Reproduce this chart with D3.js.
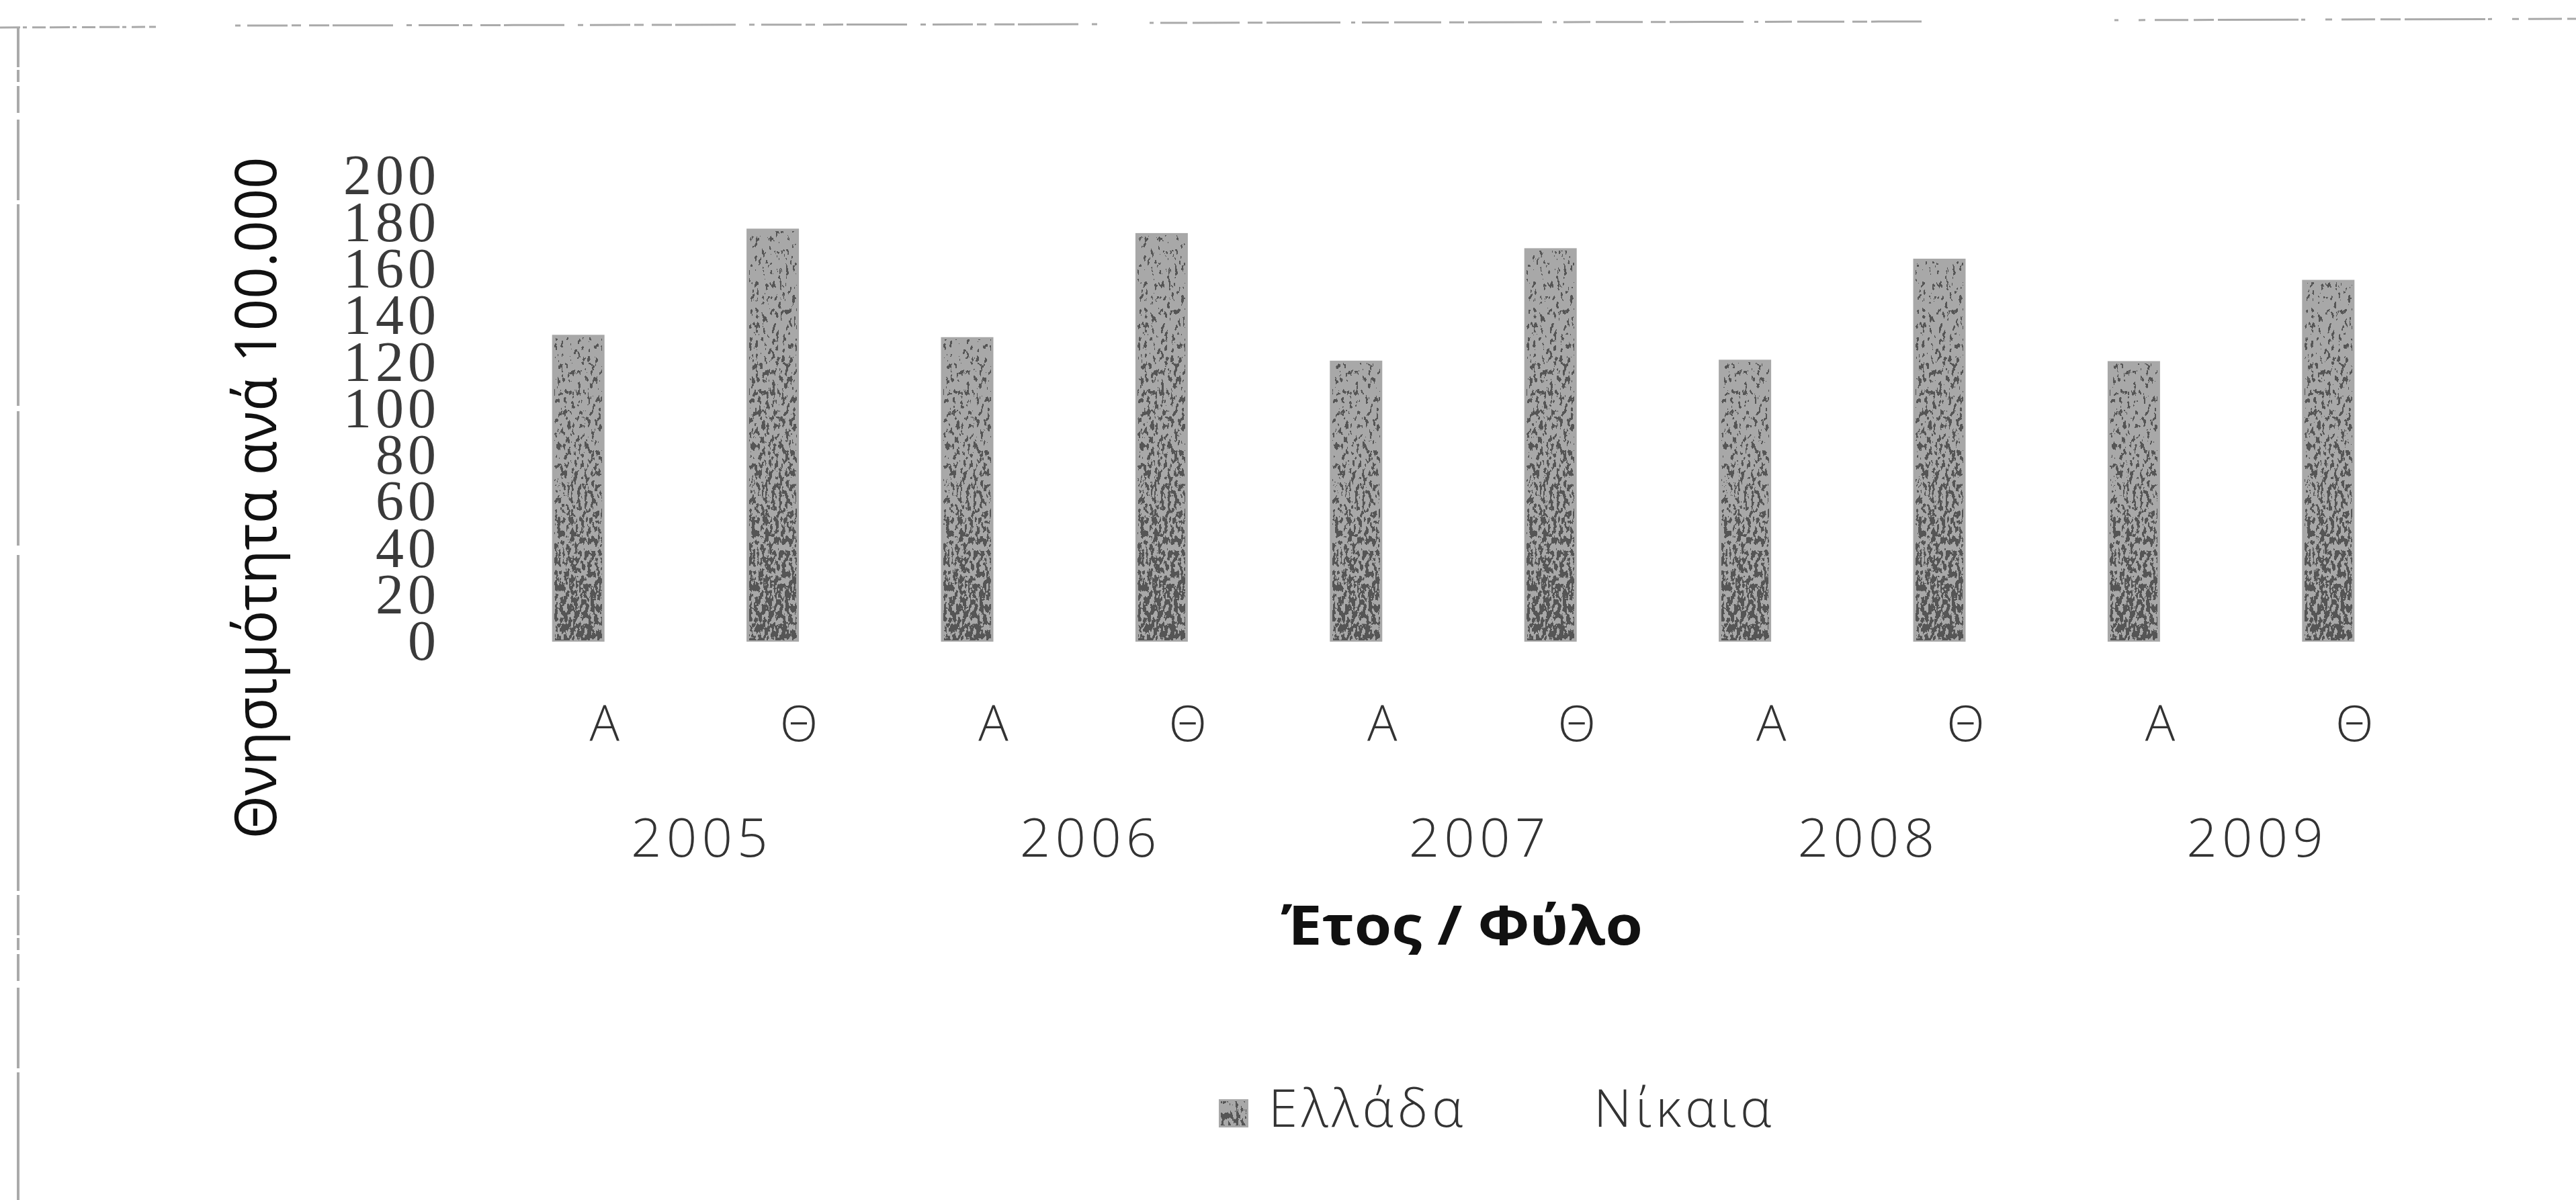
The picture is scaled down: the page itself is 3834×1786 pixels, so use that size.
<!DOCTYPE html>
<html>
<head>
<meta charset="utf-8">
<script src="https://cdn.jsdelivr.net/npm/d3@7"></script>
<style>
body { margin: 0; background: #fff; }
svg { display: block; }
</style>
</head>
<body>
<div id="chart"></div>
<script>
// data
var years = ["2005", "2006", "2007", "2008", "2009"];
var sexes = ["Α", "Θ"];
var seriesNames = ["Ελλάδα", "Νίκαια"];
var greece = [131.8, 177.4, 130.8, 175.5, 120.7, 169.0, 121.1, 164.5, 120.5, 155.4];
// Νίκαια bars are not visible in the reference
var nikaia = [null, null, null, null, null, null, null, null, null, null];
var yTicks = [0, 20, 40, 60, 80, 100, 120, 140, 160, 180, 200];

var W = 3834, H = 1786;
var plot = { left: 755, right: 3649, top: 262, base: 955 };

var categories = [];
years.forEach(function (yr) {
    sexes.forEach(function (s) { categories.push(yr + "|" + s); });
});

var x = d3.scaleBand().domain(categories).range([plot.left, plot.right]);
var xSeries = d3.scaleBand().domain(seriesNames)
    .range([0, x.bandwidth()])
    .paddingOuter(0.855);
var xYear = d3.scaleBand().domain(years).range([plot.left, plot.right]);
var y = d3.scaleLinear().domain([0, 200]).range([plot.base, plot.top]);

var svg = d3.select("#chart").append("svg")
    .attr("width", W)
    .attr("height", H);

// scanned-looking texture for the bars
var defs = svg.append("defs");
var grad = defs.append("linearGradient").attr("id", "shade")
    .attr("x1", 0).attr("y1", 0).attr("x2", 0).attr("y2", 1);
grad.append("stop").attr("offset", 0).attr("stop-color", "#000").attr("stop-opacity", 0);
grad.append("stop").attr("offset", 1).attr("stop-color", "#000").attr("stop-opacity", 1);

var f = defs.append("filter").attr("id", "speckle")
    .attr("x", 0).attr("y", 0).attr("width", 1).attr("height", 1)
    .attr("color-interpolation-filters", "sRGB");
f.append("feTurbulence").attr("type", "fractalNoise")
    .attr("baseFrequency", "0.2 0.1").attr("numOctaves", 3).attr("seed", 5)
    .attr("result", "noise");
f.append("feColorMatrix").attr("in", "noise").attr("type", "matrix")
    .attr("values", "0 0 0 0 0  0 0 0 0 0  0 0 0 0 0  1 0 0 0 0")
    .attr("result", "na");
f.append("feComposite").attr("in", "na").attr("in2", "SourceAlpha")
    .attr("operator", "arithmetic")
    .attr("k1", 0).attr("k2", 1).attr("k3", 0.2).attr("k4", -0.16)
    .attr("result", "mix");
f.append("feComponentTransfer").attr("in", "mix").attr("result", "mask")
    .append("feFuncA").attr("type", "discrete").attr("tableValues", "0 1");
f.append("feFlood").attr("flood-color", "#555555").attr("result", "dark");
f.append("feComposite").attr("in", "dark").attr("in2", "mask").attr("operator", "in");

// scan border remnants
svg.append("line")
    .attr("x1", 27).attr("y1", 40).attr("x2", 27).attr("y2", H)
    .attr("stroke", "#aaa").attr("stroke-width", 4)
    .attr("stroke-dasharray", "60,4,18,6,40,10,120,6,300,8,200,14,500,6");
svg.append("line")
    .attr("x1", 0).attr("y1", 41).attr("x2", 232).attr("y2", 40)
    .attr("stroke", "#aaa").attr("stroke-width", 3)
    .attr("stroke-dasharray", "30,4,6,8,20,6");
svg.append("line")
    .attr("x1", 350).attr("y1", 38).attr("x2", 1638).attr("y2", 36)
    .attr("stroke", "#aaa").attr("stroke-width", 3)
    .attr("stroke-dasharray", "8,10,60,6,14,12,30,5,90,20");
svg.append("line")
    .attr("x1", 1711).attr("y1", 34).attr("x2", 2860).attr("y2", 32)
    .attr("stroke", "#aaa").attr("stroke-width", 3)
    .attr("stroke-dasharray", "6,10,40,8,70,12,22,6,110,16");
svg.append("line")
    .attr("x1", 3147).attr("y1", 30).attr("x2", W).attr("y2", 28)
    .attr("stroke", "#aaa").attr("stroke-width", 3)
    .attr("stroke-dasharray", "6,30,10,14,50,8,30,6,120,4");

// bars
var rows = categories.map(function (c, i) {
    return { cat: c, values: [greece[i], nikaia[i]] };
});

var groups = svg.selectAll("g.cat")
    .data(rows)
    .enter().append("g")
    .attr("class", "cat")
    .attr("transform", function (d) { return "translate(" + x(d.cat) + ",0)"; });

var bars = groups.selectAll("g.bar")
    .data(function (d) {
        return seriesNames.map(function (s, j) { return { series: s, value: d.values[j] }; })
            .filter(function (b) { return b.value != null; });
    })
    .enter().append("g").attr("class", "bar");

bars.append("rect")
    .attr("x", function (d) { return xSeries(d.series); })
    .attr("y", function (d) { return y(d.value); })
    .attr("width", xSeries.bandwidth())
    .attr("height", function (d) { return y(0) - y(d.value); })
    .attr("fill", "#a8a8a8");

bars.append("rect")
    .attr("x", function (d) { return xSeries(d.series) + 4; })
    .attr("y", function (d) { return y(d.value) + 4; })
    .attr("width", xSeries.bandwidth() - 8)
    .attr("height", function (d) { return y(0) - y(d.value) - 6; })
    .attr("fill", "url(#shade)")
    .attr("filter", "url(#speckle)");

// y axis
var yAxis = svg.append("g")
    .attr("transform", "translate(" + plot.left + ",0)")
    .call(d3.axisLeft(y).tickValues(yTicks).tickSize(0).tickPadding(100));
yAxis.select(".domain").remove();
yAxis.selectAll("text")
    .attr("font-family", "'Liberation Serif', serif")
    .attr("font-size", 84)
    .attr("letter-spacing", 6)
    .attr("fill", "#3a3a3a");

// x axis: sex labels
var xAxis = svg.append("g")
    .attr("transform", "translate(0," + plot.base + ")")
    .call(d3.axisBottom(x).tickSize(0).tickPadding(95)
        .tickFormat(function (d) { return d.split("|")[1]; }));
xAxis.select(".domain").remove();
xAxis.selectAll("text")
    .attr("font-family", "'Open Sans', sans-serif")
    .attr("font-weight", 300)
    .attr("font-size", 74)
    .attr("fill", "#333");

// x axis: years
var yearAxis = svg.append("g")
    .attr("transform", "translate(0," + plot.base + ")")
    .call(d3.axisBottom(xYear).tickSize(0).tickPadding(263));
yearAxis.select(".domain").remove();
yearAxis.selectAll("text")
    .attr("font-family", "'Open Sans', sans-serif")
    .attr("font-weight", 300)
    .attr("font-size", 80)
    .attr("letter-spacing", 7)
    .attr("fill", "#333");

// axis titles
svg.append("text")
    .attr("transform", "rotate(-90)")
    .attr("x", -741)
    .attr("y", 411)
    .attr("text-anchor", "middle")
    .attr("font-family", "'Open Sans', sans-serif")
    .attr("font-weight", 500)
    .attr("font-size", 86)
    .attr("textLength", 1015)
    .attr("lengthAdjust", "spacingAndGlyphs")
    .attr("fill", "#111")
    .text("Θνησιμότητα ανά 100.000");

svg.append("text")
    .attr("x", 2176)
    .attr("y", 1406)
    .attr("text-anchor", "middle")
    .attr("font-family", "'Open Sans', sans-serif")
    .attr("font-weight", 700)
    .attr("font-size", 80)
    .attr("textLength", 538)
    .attr("lengthAdjust", "spacingAndGlyphs")
    .attr("fill", "#111")
    .text("Έτος / Φύλο");

// legend
var legendX = [1814, 2298];
var legend = svg.selectAll("g.legend")
    .data(seriesNames)
    .enter().append("g")
    .attr("class", "legend")
    .attr("transform", function (d, i) { return "translate(" + legendX[i] + ",1636)"; });

legend.append("rect")
    .attr("width", 44)
    .attr("height", 42)
    .attr("fill", function (d, i) { return i == 0 ? "#a8a8a8" : "#fff"; });
legend.filter(function (d, i) { return i == 0; }).append("rect")
    .attr("x", 3).attr("y", 3)
    .attr("width", 38).attr("height", 36)
    .attr("fill", "url(#shade)")
    .attr("filter", "url(#speckle)");

legend.append("text")
    .attr("x", 74)
    .attr("y", 41)
    .attr("font-family", "'Open Sans', sans-serif")
    .attr("font-weight", 300)
    .attr("font-size", 78)
    .attr("letter-spacing", 6)
    .attr("fill", "#333")
    .text(function (d) { return d; });
</script>
</body>
</html>
